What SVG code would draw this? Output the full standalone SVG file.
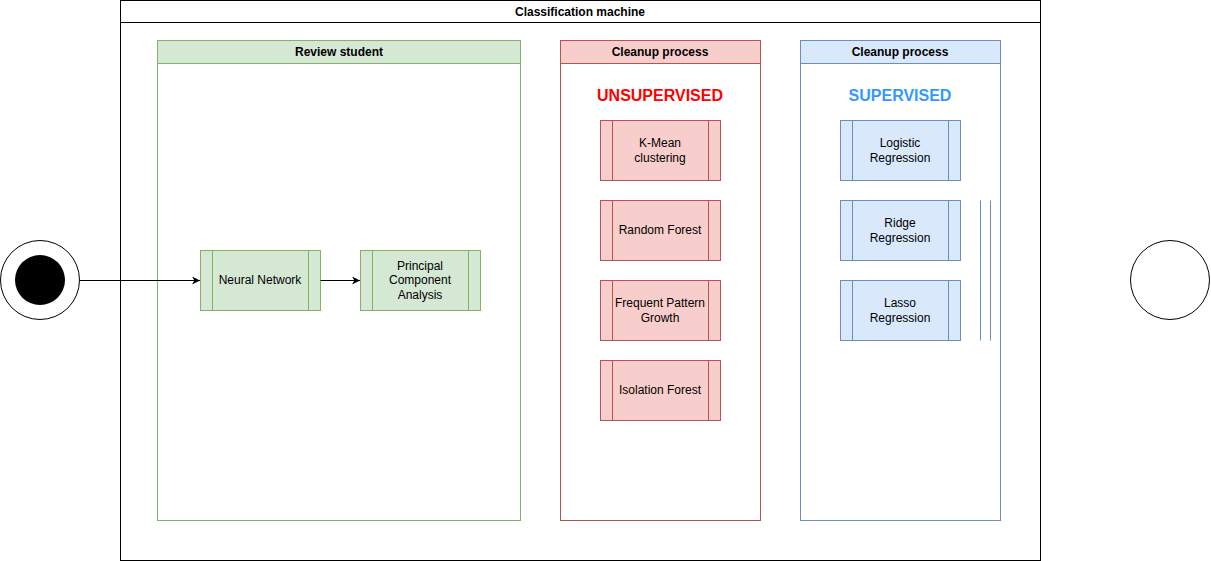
<svg xmlns="http://www.w3.org/2000/svg" width="1211" height="561" viewBox="0 0 1211 561">
<style>
text{font-family:"Liberation Sans",Arial,Helvetica,sans-serif;text-anchor:middle;dominant-baseline:central}
.t{font-size:12px;font-weight:bold;fill:#000}
.l{font-size:12px;fill:#000}
.big{font-size:16px;font-weight:bold}
.g{fill:#d5e8d4;stroke:#82b366}
.r{fill:#f8cecc;stroke:#b85450}
.b{fill:#dae8fc;stroke:#6c8ebf}
.gs{fill:none;stroke:#82b366}
.rs{fill:none;stroke:#b85450}
.bs{fill:none;stroke:#6c8ebf}
</style>
<defs>
<marker id="arr" viewBox="0 0 10 10" refX="10" refY="5" markerWidth="8" markerHeight="8" markerUnits="userSpaceOnUse" orient="auto"><path d="M0,0 L10,5 L0,10 L3,5 Z" fill="#000"/></marker>
</defs>
<rect width="1211" height="561" fill="#fff"/>
<g id="classification-machine">
<rect x="120.5" y="0.5" width="920" height="560" fill="#fff" stroke="#000"/>
<line x1="120.5" y1="22.5" x2="1040.5" y2="22.5" stroke="#000"/>
<text class="t" x="580" y="12">Classification machine</text>
</g>
<g id="review-student">
<rect x="157.5" y="40.5" width="363" height="480" fill="#fff" stroke="#82b366"/>
<rect class="g" x="157.5" y="40.5" width="363" height="23"/>
<text class="t" x="339" y="52">Review student</text>
</g>
<g id="cleanup-unsupervised">
<rect x="560.5" y="40.5" width="200" height="480" fill="#fff" stroke="#b85450"/>
<rect class="r" x="560.5" y="40.5" width="200" height="23"/>
<text class="t" x="660" y="52">Cleanup process</text>
<text class="big" x="660" y="95" fill="#ff0000">UNSUPERVISED</text>
</g>
<g id="cleanup-supervised">
<rect x="800.5" y="40.5" width="200" height="480" fill="#fff" stroke="#6c8ebf"/>
<rect class="b" x="800.5" y="40.5" width="200" height="23"/>
<text class="t" x="900" y="52">Cleanup process</text>
<text class="big" x="900" y="95" fill="#3399ff">SUPERVISED</text>
</g>
<g id="start">
<circle cx="40" cy="280" r="39.5" fill="#fff" stroke="#000"/>
<circle cx="40" cy="280" r="25" fill="#000"/>
</g>
<g id="end">
<circle cx="1170" cy="280" r="39.5" fill="#fff" stroke="#000"/>
</g>
<g id="neural-network">
<rect class="g" x="200.5" y="250.5" width="120" height="60"/>
<path class="gs" d="M212.5,250.5V310.5M308.5,250.5V310.5"/>
<text class="l" x="260" y="280">Neural Network</text>
</g>
<g id="pca">
<rect class="g" x="360.5" y="250.5" width="120" height="60"/>
<path class="gs" d="M372.5,250.5V310.5M468.5,250.5V310.5"/>
<text class="l" x="420" y="266">Principal</text>
<text class="l" x="420" y="280">Component</text>
<text class="l" x="420" y="295">Analysis</text>
</g>
<g id="kmean">
<rect class="r" x="600.5" y="120.5" width="120" height="60"/>
<path class="rs" d="M612.5,120.5V180.5M708.5,120.5V180.5"/>
<text class="l" x="660" y="143">K-Mean</text>
<text class="l" x="660" y="158">clustering</text>
</g>
<g id="random-forest">
<rect class="r" x="600.5" y="200.5" width="120" height="60"/>
<path class="rs" d="M612.5,200.5V260.5M708.5,200.5V260.5"/>
<text class="l" x="660" y="230">Random Forest</text>
</g>
<g id="fp-growth">
<rect class="r" x="600.5" y="280.5" width="120" height="60"/>
<path class="rs" d="M612.5,280.5V340.5M708.5,280.5V340.5"/>
<text class="l" x="660" y="303">Frequent Pattern</text>
<text class="l" x="660" y="318">Growth</text>
</g>
<g id="isolation-forest">
<rect class="r" x="600.5" y="360.5" width="120" height="60"/>
<path class="rs" d="M612.5,360.5V420.5M708.5,360.5V420.5"/>
<text class="l" x="660" y="390">Isolation Forest</text>
</g>
<g id="logistic">
<rect class="b" x="840.5" y="120.5" width="120" height="60"/>
<path class="bs" d="M852.5,120.5V180.5M948.5,120.5V180.5"/>
<text class="l" x="900" y="143">Logistic</text>
<text class="l" x="900" y="158">Regression</text>
</g>
<g id="ridge">
<rect class="b" x="840.5" y="200.5" width="120" height="60"/>
<path class="bs" d="M852.5,200.5V260.5M948.5,200.5V260.5"/>
<text class="l" x="900" y="223">Ridge</text>
<text class="l" x="900" y="238">Regression</text>
</g>
<g id="lasso">
<rect class="b" x="840.5" y="280.5" width="120" height="60"/>
<path class="bs" d="M852.5,280.5V340.5M948.5,280.5V340.5"/>
<text class="l" x="900" y="303">Lasso</text>
<text class="l" x="900" y="318">Regression</text>
</g>
<g id="lines">
<path class="bs" d="M980.5,200.5V340.5M990.5,200.5V340.5"/>
</g>
<g id="connectors" stroke="#000" fill="none">
<line x1="80" y1="280.5" x2="200" y2="280.5" marker-end="url(#arr)"/>
<line x1="320.5" y1="280.5" x2="360" y2="280.5" marker-end="url(#arr)"/>
</g>
</svg>
